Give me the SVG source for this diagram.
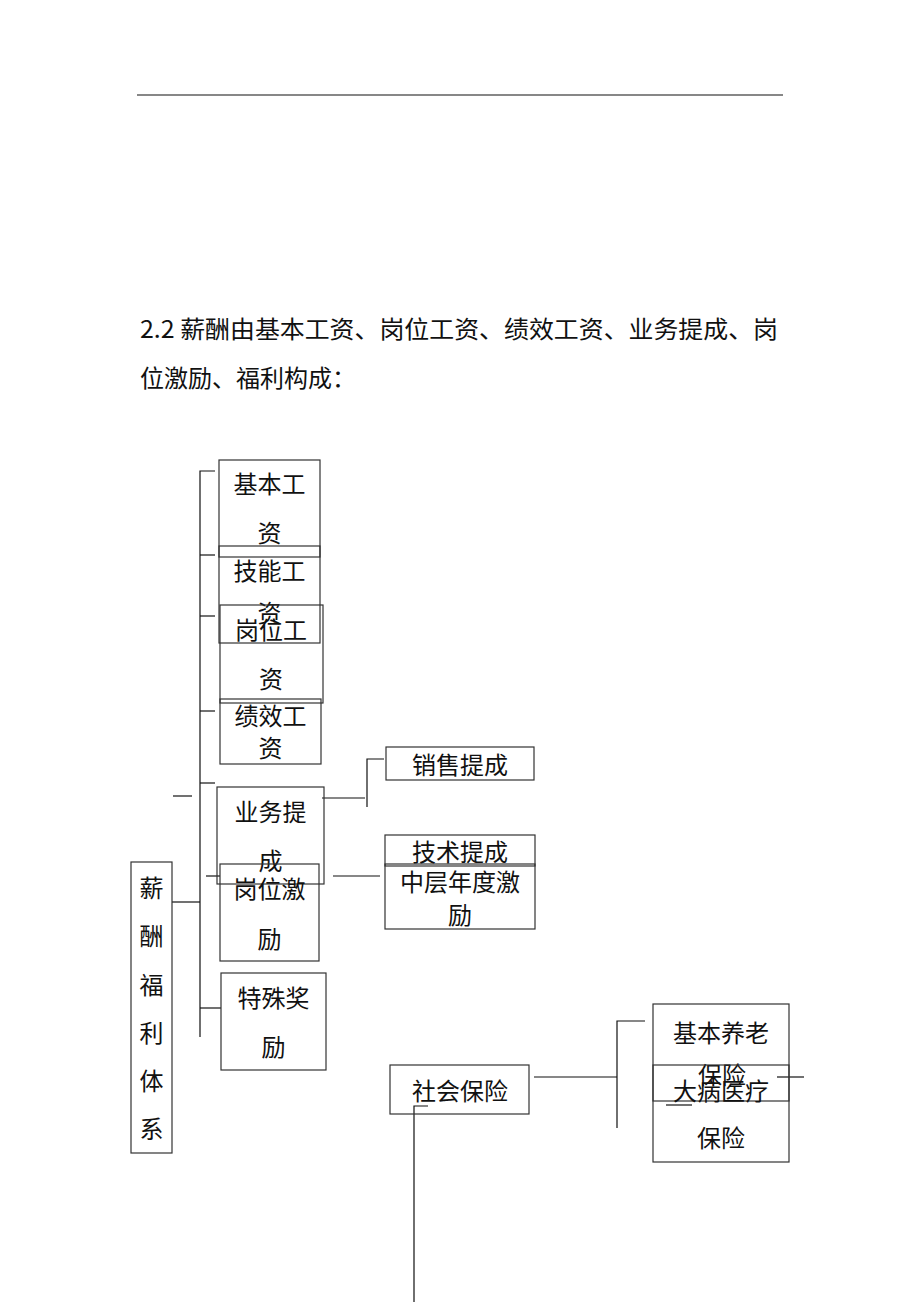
<svg xmlns="http://www.w3.org/2000/svg" width="920" height="1302" viewBox="0 0 920 1302">
<style>
  .t { font-family: "Noto Sans CJK SC", "Noto Sans", sans-serif; font-size: 24px; fill: #111; text-anchor: middle; }
  .h { font-family: "Noto Sans CJK SC", "Noto Sans", sans-serif; font-size: 24px; fill: #111; }
  .box { fill: none; stroke: #333; stroke-width: 1.2; }
  .ln { fill: none; stroke: #111; stroke-width: 1.2; }
</style>
<rect width="920" height="1302" fill="#fff"/>
<line x1="137" y1="95" x2="783" y2="95" stroke="#111" stroke-width="1.2"/>
<text class="h" x="140" y="338" textLength="638" lengthAdjust="spacingAndGlyphs">2.2 薪酬由基本工资、岗位工资、绩效工资、业务提成、岗</text>
<text class="h" x="140" y="387">位激励、福利构成：</text>

<g id="connectors">
  <path class="ln" d="M215 471 H200 V1037"/>
  <path class="ln" d="M200 555 H215"/>
  <path class="ln" d="M200 616 H215"/>
  <path class="ln" d="M200 711 H215"/>
  <path class="ln" d="M200 783 H215"/>
  <path class="ln" d="M206 876 H220"/>
  <path class="ln" d="M200 1008 H221"/>
  <path class="ln" d="M172 902 H200"/>
  <path class="ln" d="M173 796 H192"/>
  <path class="ln" d="M322 798 H365"/>
  <path class="ln" d="M384 759 H367 V807"/>
  <path class="ln" d="M333 876 H380"/>
  <path class="ln" d="M534 1077 H617"/>
  <path class="ln" d="M645 1021 H617 V1128"/>
  <path class="ln" d="M777 1077 H804"/>
  <path class="ln" d="M666 1105 H692"/>
  <path class="ln" d="M428 1106 H414 V1302"/>
</g>

<g id="n-jiben">
  <rect class="box" x="219" y="460" width="101" height="97"/>
  <text class="t" x="269.5" y="493">基本工</text>
  <text class="t" x="269.5" y="542">资</text>
</g>
<g id="n-jineng">
  <rect class="box" x="219" y="546" width="101" height="97"/>
  <text class="t" x="269.5" y="580">技能工</text>
  <text class="t" x="269.5" y="622">资</text>
</g>
<g id="n-gangwei">
  <rect class="box" x="220" y="605" width="103" height="98"/>
  <text class="t" x="271" y="639">岗位工</text>
  <text class="t" x="271" y="688">资</text>
</g>
<g id="n-jixiao">
  <rect class="box" x="220" y="699" width="101" height="65"/>
  <text class="t" x="270.5" y="725">绩效工</text>
  <text class="t" x="270.5" y="757">资</text>
</g>
<g id="n-yewu">
  <rect class="box" x="217" y="787" width="107" height="97"/>
  <text class="t" x="270.5" y="821">业务提</text>
  <text class="t" x="270.5" y="870">成</text>
</g>
<g id="n-gangweijili">
  <rect class="box" x="220" y="864" width="99" height="97"/>
  <text class="t" x="269.5" y="898">岗位激</text>
  <text class="t" x="269.5" y="948">励</text>
</g>
<g id="n-teshu">
  <rect class="box" x="221" y="973" width="105" height="97"/>
  <text class="t" x="273.5" y="1007">特殊奖</text>
  <text class="t" x="273.5" y="1056">励</text>
</g>
<g id="n-root">
  <rect class="box" x="131" y="862" width="41" height="291"/>
  <text class="t" x="151.5" y="897">薪</text>
  <text class="t" x="151.5" y="945">酬</text>
  <text class="t" x="151.5" y="994">福</text>
  <text class="t" x="151.5" y="1042">利</text>
  <text class="t" x="151.5" y="1090">体</text>
  <text class="t" x="151.5" y="1138">系</text>
</g>
<g id="n-xiaoshou">
  <rect class="box" x="386" y="747" width="148" height="33"/>
  <text class="t" x="460" y="774">销售提成</text>
</g>
<g id="n-jishu">
  <rect class="box" x="385" y="835" width="150" height="31"/>
  <text class="t" x="460" y="861">技术提成</text>
</g>
<g id="n-zhongceng">
  <rect class="box" x="385" y="864" width="150" height="65"/>
  <text class="t" x="460" y="891">中层年度激</text>
  <text class="t" x="460" y="924">励</text>
</g>
<g id="n-shehui">
  <rect class="box" x="390" y="1065" width="139" height="49"/>
  <text class="t" x="460" y="1100">社会保险</text>
</g>
<g id="n-yanglao">
  <rect class="box" x="653" y="1004" width="136" height="97"/>
  <text class="t" x="721" y="1042">基本养老</text>
  <text class="t" x="722" y="1084">保险</text>
</g>
<g id="n-dabing">
  <rect class="box" x="653" y="1065" width="136" height="97"/>
  <text class="t" x="721" y="1100">大病医疗</text>
  <text class="t" x="721" y="1147">保险</text>
</g>
</svg>
